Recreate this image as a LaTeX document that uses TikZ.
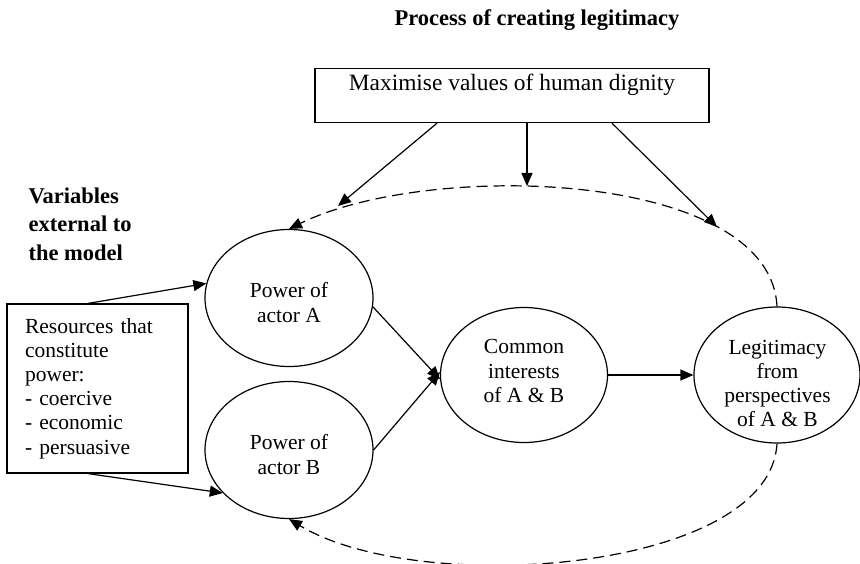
\documentclass[tikz,border=0pt]{standalone}
\usepackage{fontspec}
\setmainfont{Liberation Serif}
\usetikzlibrary{shapes.geometric,arrows.meta}
\tikzset{
  txt/.style={font=\fontsize{21.5}{24.2}\selectfont},
  bigtxt/.style={font=\fontsize{23.4}{26}\selectfont},
  bold/.style={font=\fontsize{22.5}{28.5}\selectfont\bfseries},
  oval/.style={draw, ellipse, line width=1.2pt, inner sep=0pt},
  ovaltext/.style={txt, align=center, inner sep=0pt},
  box/.style={draw, line width=1.2pt, txt},
  arr/.style={line width=1.2pt, -{Triangle[length=13pt,width=11pt]}},
  darr/.style={arr, dash pattern=on 11pt off 6pt}
}
\begin{document}
\begin{tikzpicture}[x=1pt,y=-1pt]
\useasboundingbox (0,0) rectangle (860,564);
% title and side heading
\node[bold] (title) at (537,20) {Process of creating legitimacy};
\node[bold, align=left, anchor=west] (vars) at (25,224) {Variables\\external to\\the model};
% top box
\node[box, bigtxt, anchor=north, minimum width=394pt, inner xsep=5pt, inner ysep=5pt,
      text height=17pt, text depth=27pt] (tb) at (512,68) {Maximise values of human dignity};
% resources box
\node[box, minimum width=181pt, minimum height=169pt, text width=145pt,
      inner xsep=18pt, align=left] (res) at (97.5,388.5)
  {Resources that\\constitute\\power:\\- coercive\\- economic\\- persuasive};
% ellipses
\node[oval, minimum width=168pt, minimum height=137pt] (pa) at (289,298) {};
\node[oval, minimum width=168pt, minimum height=137pt] (pb) at (289,450) {};
\node[oval, minimum width=167pt, minimum height=135pt] (cm) at (524,375) {};
\node[oval, minimum width=166pt, minimum height=136pt] (lg) at (777,375) {};
\node[ovaltext] (pat) at (289,302.5) {Power of\\actor A};
\node[ovaltext] (pbt) at (289,454.5) {Power of\\actor B};
\node[ovaltext] (cmt) at (524,371) {Common\\interests\\of A \& B};
\node[ovaltext] (lgt) at (777.5,383.5) {Legitimacy\\from\\perspectives\\of A \& B};
% free ends of the arrows from the top box
\coordinate (e1) at (338,206);
\coordinate (e2) at (527,186);
\coordinate (e3) at (717,227);
% connectors
\draw[arr] ([xshift=-75pt]tb.south) -- (e1);
\draw[arr] ([xshift=15pt]tb.south) -- (e2);
\draw[arr] ([xshift=100pt]tb.south) -- (e3);
\draw[arr] ([xshift=-9.5pt]res.north) -- (pa.170);
\draw[arr] ([xshift=-9.5pt]res.south) -- (pb.213);
\draw[arr] (pa.-6) -- (cm.183);
\draw[arr] (pb.east) -- (cm.178);
\draw[arr] (cm.east) -- (lg.west);
\draw[darr] (lg.north) .. controls (770,170) and (430,160) .. (pa.north);
\draw[darr] (lg.south) .. controls (770,572) and (420,598) .. (pb.south);
\end{tikzpicture}
\end{document}
